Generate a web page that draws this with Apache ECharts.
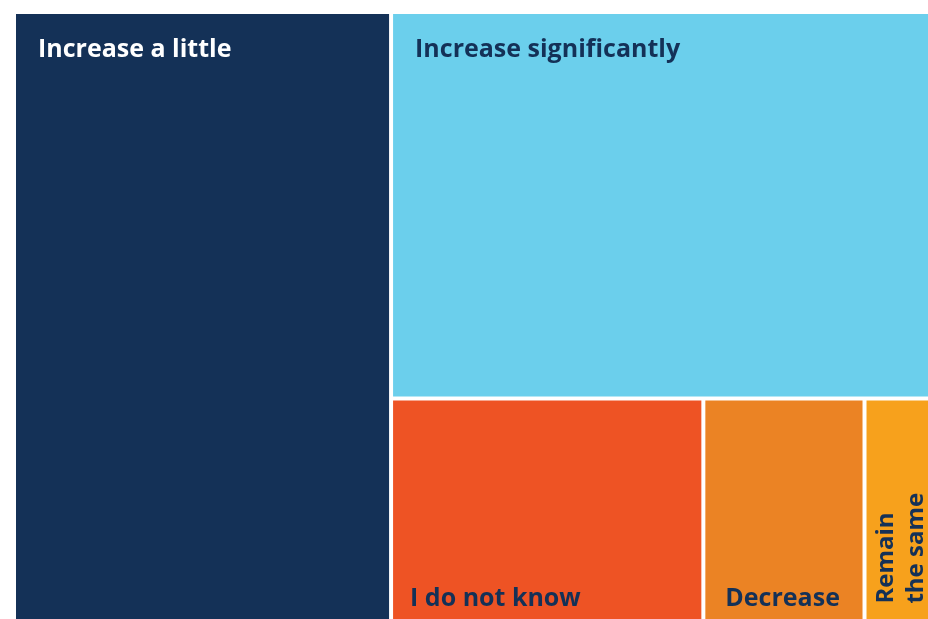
<!DOCTYPE html>
<html>
<head>
<meta charset="utf-8">
<script src="https://cdn.jsdelivr.net/npm/echarts@6/dist/echarts.min.js"></script>
<style>
  html, body { margin: 0; padding: 0; background: #ffffff; }
  #chart { width: 928px; height: 619px; }
</style>
</head>
<body>
<div id="chart"></div>
<script>
// Survey answers and their shares (%)
const categories = ['Increase a little', 'Increase significantly', 'I do not know', 'Decrease', 'Remain the same'];
const shares = [41.0, 37.2, 12.4, 6.4, 2.6];
const displayNames = ['Increase a little', 'Increase significantly', 'I do not know', 'Decrease', 'Remain\nthe same'];

const palette = ['#143157', '#6bcfec', '#ee5324', '#eb8324', '#f7a11c'];
const NAVY = '#143157';
const FONT = '"Open Sans", "Noto Sans", sans-serif';

// Per-tile label placement
const labelLayout = {
  'Increase a little':      { color: '#ffffff', position: [22, 21], rotate: 0, size: 25 },
  'Increase significantly': { color: NAVY, position: [22, 21], rotate: 0, size: 25 },
  'I do not know':          { color: NAVY, position: [17, 183], rotate: 0, size: 25 },
  'Decrease':               { color: NAVY, position: [20, 183], rotate: 0, size: 25 },
  'Remain the same':        { color: NAVY, position: [5, 203], rotate: 90, size: 24 }
};

const seriesData = categories.map((name, i) => {
  const lay = labelLayout[name];
  return {
    name: displayNames[i],
    value: shares[i],
    itemStyle: { color: palette[i], borderWidth: 0 },
    label: {
      show: true,
      position: lay.position,
      rotate: lay.rotate,
      color: lay.color,
      fontSize: lay.size,
      align: 'left',
      verticalAlign: 'top',
      overflow: 'none',
      lineHeight: 30
    }
  };
});

const chart = echarts.init(document.getElementById('chart'), null, { renderer: 'canvas' });
chart.setOption({
  animation: false,
  backgroundColor: '#ffffff',
  series: [{
    type: 'treemap',
    left: 16,
    top: 14,
    right: 0,
    bottom: 0,
    roam: false,
    nodeClick: false,
    squareRatio: 1,
    breadcrumb: { show: false },
    label: {
      show: true,
      fontFamily: FONT,
      fontWeight: 'bold',
      fontSize: 25,
      padding: 0,
      overflow: 'none'
    },
    levels: [
      { itemStyle: { gapWidth: 4, borderWidth: 0, borderColor: '#ffffff' } }
    ],
    data: seriesData
  }]
});
</script>
</body>
</html>
